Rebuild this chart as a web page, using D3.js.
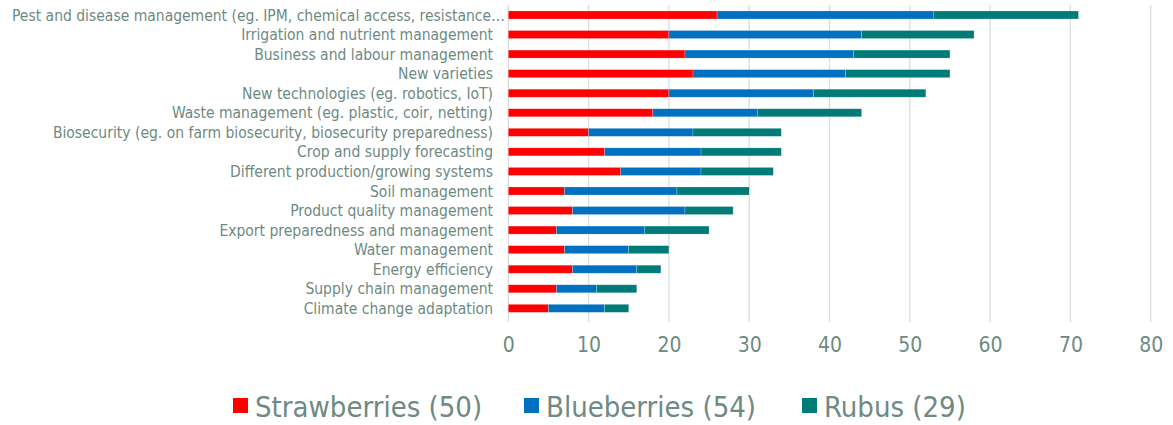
<!DOCTYPE html>
<html><head><meta charset="utf-8">
<script src="https://cdn.jsdelivr.net/npm/d3@7"></script>
<style>
html,body{margin:0;padding:0;background:#fff;}
svg{display:block;font-family:"DejaVu Sans",sans-serif;font-stretch:condensed;}
</style></head>
<body>
<svg id="c" width="1173" height="425"></svg>
<script>
const categories = [
  "Pest and disease management (eg. IPM, chemical access, resistance…",
  "Irrigation and nutrient management",
  "Business and labour management",
  "New varieties",
  "New technologies (eg. robotics, IoT)",
  "Waste management (eg. plastic, coir, netting)",
  "Biosecurity (eg. on farm biosecurity, biosecurity preparedness)",
  "Crop and supply forecasting",
  "Different production/growing systems",
  "Soil management",
  "Product quality management",
  "Export preparedness and management",
  "Water management",
  "Energy efficiency",
  "Supply chain management",
  "Climate change adaptation"
];
const strawberries = [26,20,22,23,20,18,10,12,14,7,8,6,7,8,6,5];
const blueberries  = [27,24,21,19,18,13,13,12,10,14,14,11,8,8,5,7];
const rubus        = [18,14,12,13,14,13,11,10,9,9,6,8,5,3,5,3];
const seriesNames = ["Strawberries (50)","Blueberries (54)","Rubus (29)"];
const seriesColors = ["#FF0000","#0070C0","#007B78"];
const xTicks = [0,10,20,30,40,50,60,70,80];

const textColor = "#6E8A82";
const svg = d3.select("#c");
const x = d3.scaleLinear().domain([0,80]).range([508.3,1150.7]);
const y = d3.scaleBand().domain(categories).range([5.2,318.1]).paddingInner(0.59).paddingOuter(0.295);

// gridlines
svg.append("g").selectAll("line").data(xTicks).join("line")
  .attr("x1", d=>x(d)).attr("x2", d=>x(d))
  .attr("y1", 5).attr("y2", 322)
  .attr("stroke", "#D9DEDC").attr("stroke-width", 1.3);

// stacked data
const rows = categories.map((c,i)=>({cat:c, s0:strawberries[i], s1:blueberries[i], s2:rubus[i]}));
const stack = d3.stack().keys(["s0","s1","s2"])(rows);
svg.append("g").selectAll("g").data(stack).join("g")
  .attr("fill", (d,i)=>seriesColors[i])
  .selectAll("rect").data(d=>d).join("rect")
  .attr("x", d=>x(d[0])).attr("width", d=>x(d[1])-x(d[0]))
  .attr("y", d=>y(d.data.cat)).attr("height", y.bandwidth())
  .attr("stroke", "rgba(255,255,255,0.35)").attr("stroke-width", 0.6);

// category labels
svg.append("g").selectAll("text").data(categories).join("text")
  .attr("x", (d,i)=> i===0 ? 505 : 493)
  .attr("y", d=>y(d)+y.bandwidth()/2)
  .attr("dy", "0.36em")
  .attr("text-anchor", "end")
  .attr("font-size", 15.5)
  .attr("fill", textColor)
  .text(d=>d);

// x tick labels
const xAxis = d3.axisBottom(x).tickValues(xTicks).tickSize(0).tickPadding(0);
const ax = svg.append("g").attr("transform","translate(0,337)").call(xAxis);
ax.select(".domain").remove();
ax.selectAll("text").attr("font-size", 21).attr("fill", textColor)
  .attr("font-family", "DejaVu Sans").style("font-stretch","condensed").attr("dy","0.71em");

// legend
const legX = [233, 524, 802];
const lg = svg.append("g").selectAll("g").data(seriesNames).join("g")
  .attr("transform", (d,i)=>`translate(${legX[i]},398)`);
lg.append("rect").attr("width",15).attr("height",15).attr("fill",(d,i)=>seriesColors[i]);
lg.append("text").attr("x",22).attr("y",19).attr("font-size",29).attr("fill",textColor).text(d=>d);
</script>
</body></html>
